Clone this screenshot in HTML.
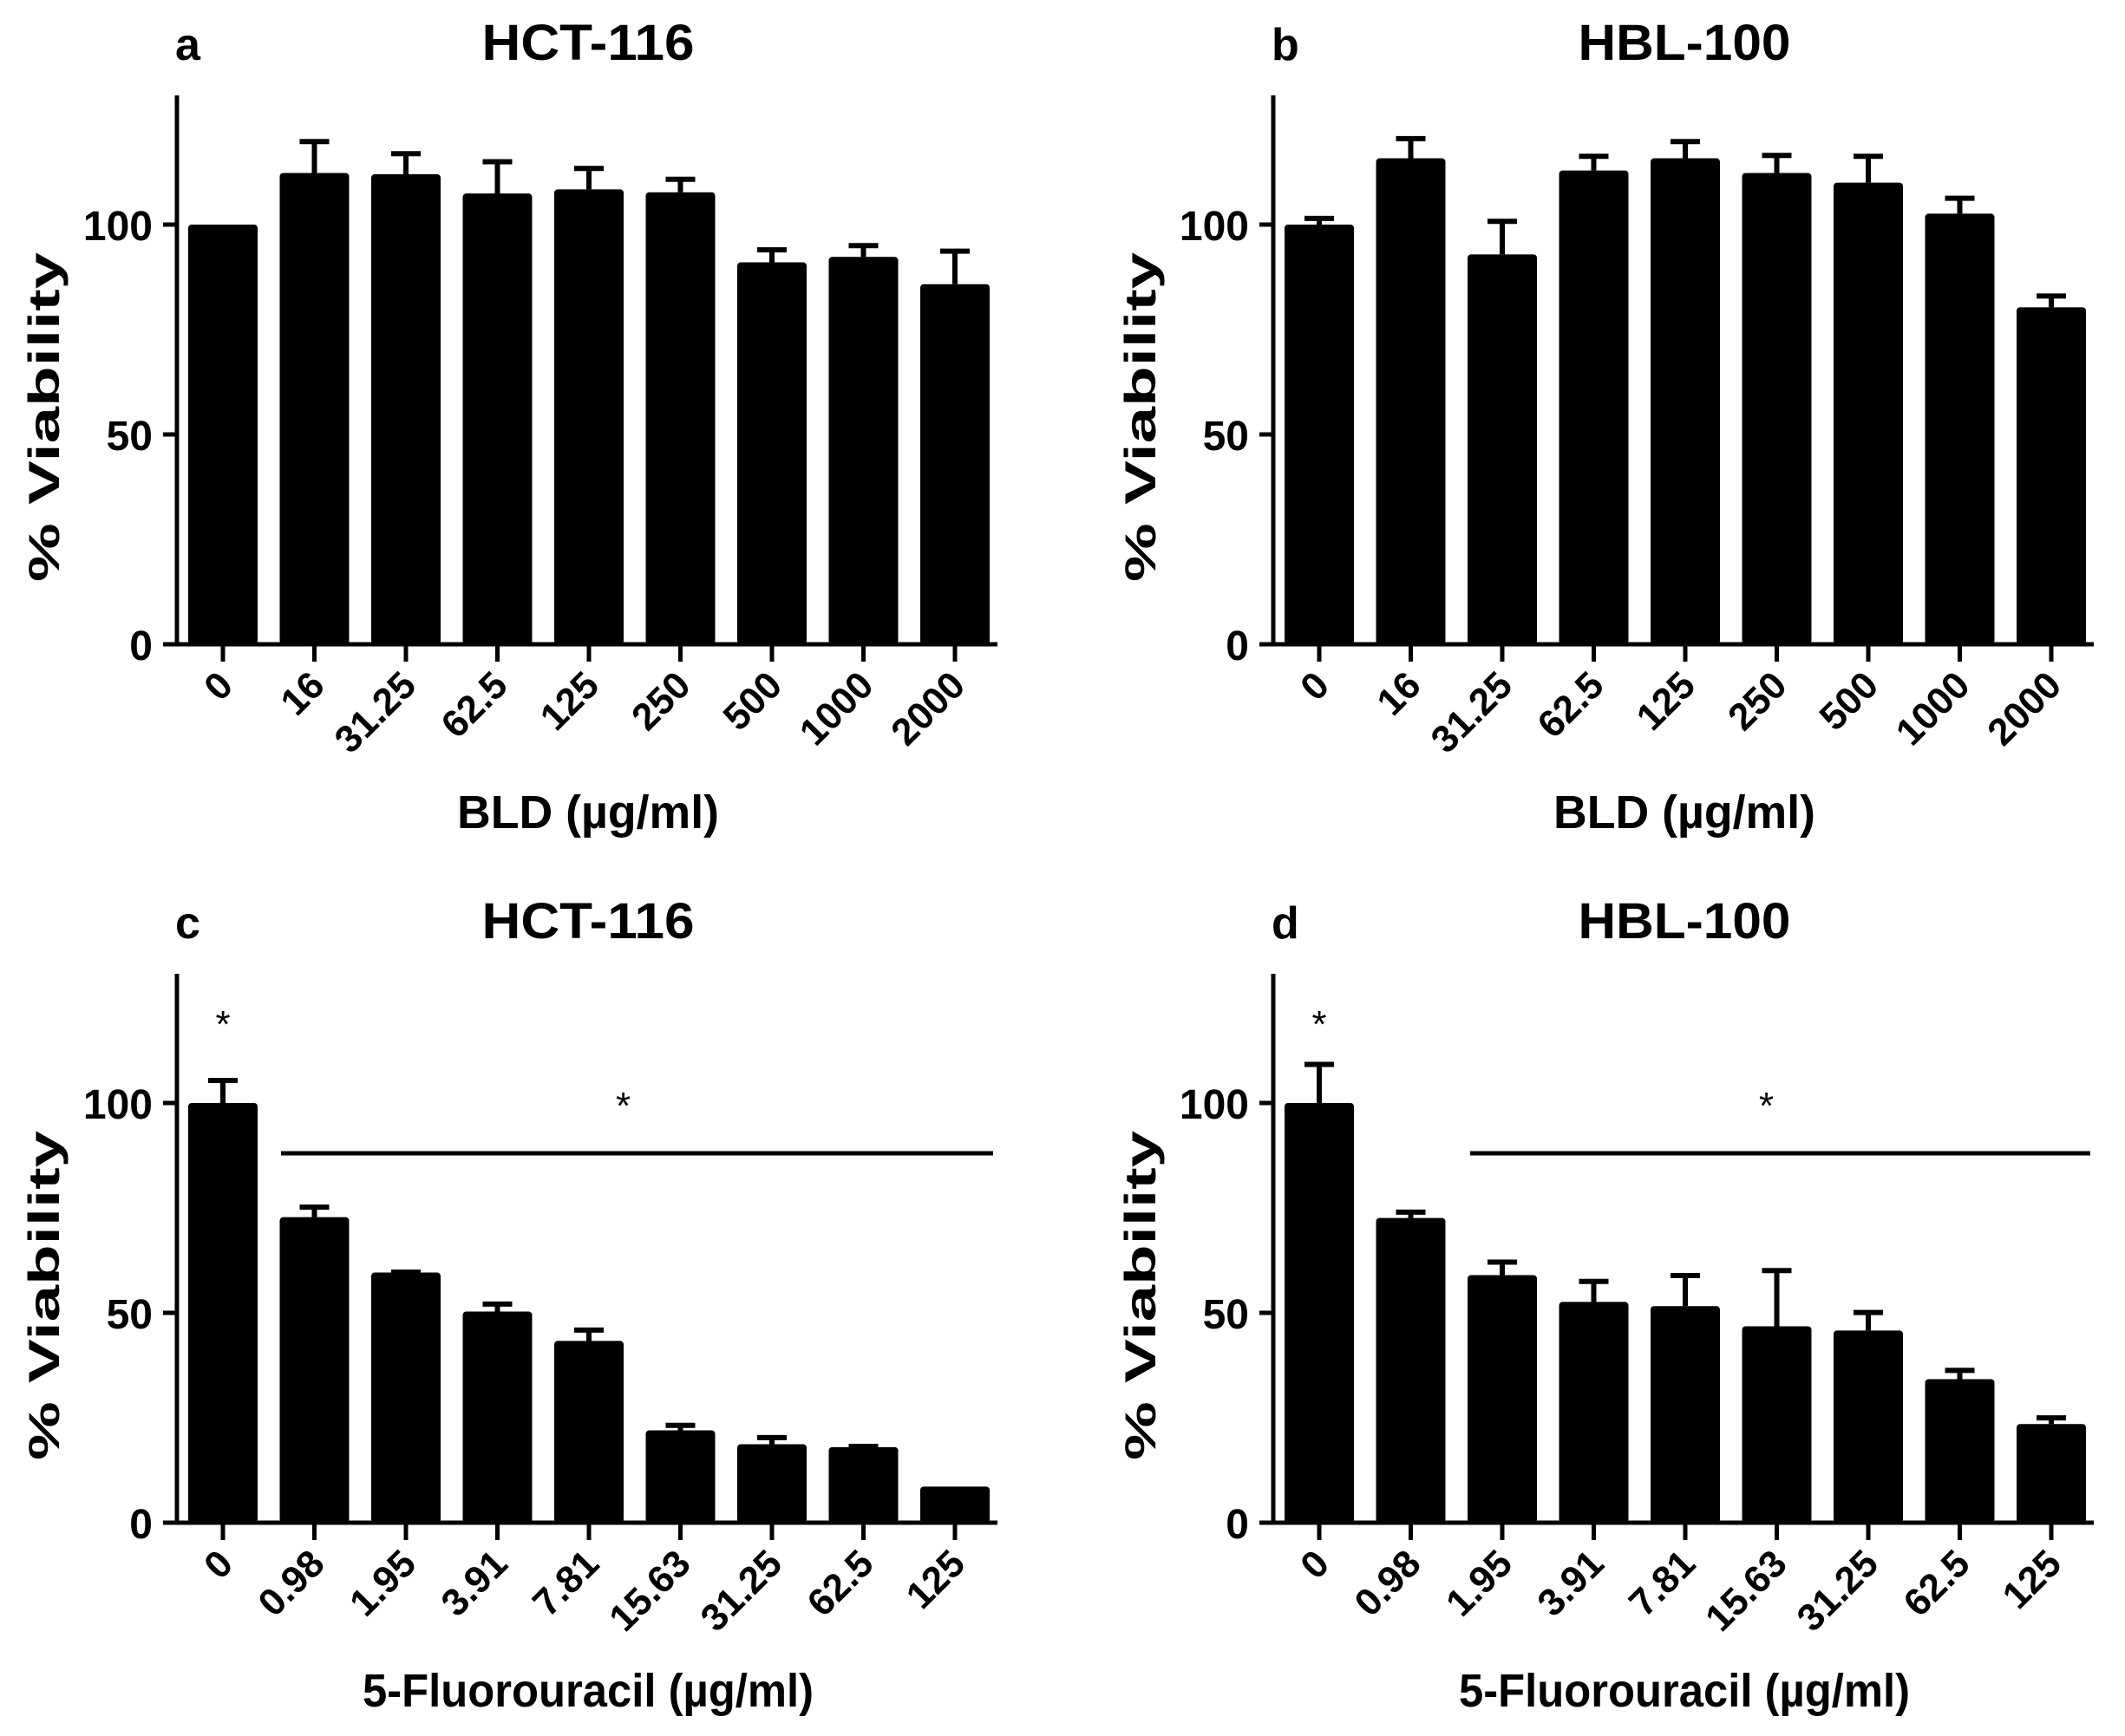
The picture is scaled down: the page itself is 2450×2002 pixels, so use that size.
<!DOCTYPE html>
<html><head><meta charset="utf-8"><style>
html,body{margin:0;padding:0;background:#fff;}
svg{display:block;}
text{font-family:"Liberation Sans",Arial,sans-serif;font-weight:bold;fill:#000;}
</style></head><body>
<svg id="fig" width="2450" height="2002" viewBox="0 0 2450 2002" xmlns="http://www.w3.org/2000/svg"></svg>
<script>
const catsBLD = ["0","16","31.25","62.5","125","250","500","1000","2000"];
const catsFU = ["0","0.98","1.95","3.91","7.81","15.63","31.25","62.5","125"];
const valsA = [100,112.3,112,107.4,108.4,107.7,91,92.3,85.8];
const errA = [null,120.3,117.4,115.5,113.9,111.3,94.5,95.5,94.2];
const valsB = [100,115.8,92.9,112.9,115.8,112.3,110,102.6,80.3];
const errB = [102,121,101.3,116.8,120.3,117,116.8,106.8,83.5];
const valsC = [100,72.8,59.6,50.3,43.3,22,18.7,18,8.6];
const errC = [105.9,75.7,60.2,52.6,46.4,23.7,20.8,18.7,null];
const valsD = [100,72.6,59,52.6,51.6,46.8,45.8,34.2,23.5];
const errD = [109.7,74.5,62.6,58,59.4,60.6,50.6,36.8,25.5];
const yTicks = [0,50,100];

const NS="http://www.w3.org/2000/svg";
const svg=document.getElementById('fig');
function mk(tag,attrs,parent){const e=document.createElementNS(NS,tag);for(const k in attrs)e.setAttribute(k,attrs[k]);(parent||svg).appendChild(e);return e;}

function panel(id,ax,y0,letter,title,xtitle,xtLen,cats,vals,errs,sig){
  const g=mk('g',{});
  
  
  const yS=v=>y0-v*4.84;
  const xS=i=>ax+53+i*105.5;
  const yTop=y0-633;
  const xEnd=ax+946;
  const l=mk('text',{x:ax-2,y:y0-674,'font-size':52},g);l.textContent=letter;
  
  
  const t=mk('text',{x:ax+474,y:y0-674,'font-size':58,'text-anchor':'middle',textLength:245,lengthAdjust:'spacingAndGlyphs'},g);t.textContent=title;
  
  
  vals.forEach((v,i)=>{
    const cx=xS(i);
    if(errs[i]!=null){
      const e=mk('line',{x1:cx,x2:cx,y1:yS(v),y2:yS(errs[i]),stroke:'#000','stroke-width':6},g);
      
      
      const c=mk('line',{x1:cx-17,x2:cx+17,y1:yS(errs[i])+2.5,y2:yS(errs[i])+2.5,stroke:'#000','stroke-width':6},g);
      
      
    }
    const b=mk('rect',{x:cx-40,y:yS(v),width:80,height:y0-yS(v),rx:4,fill:'#000'},g);
    
    
    const tk=mk('line',{x1:cx,x2:cx,y1:y0,y2:y0+20,stroke:'#000','stroke-width':5},g);
    
    
    const lx=cx+14,ly=y0+50;
    const tl=mk('text',{x:lx,y:ly,'font-size':44,'text-anchor':'end',transform:`rotate(-45 ${lx} ${ly})`},g);
    tl.textContent=cats[i];
    
    
  });
  const ya=mk('line',{x1:ax,x2:ax,y1:yTop,y2:y0+2.5,stroke:'#000','stroke-width':5},g);
  
  
  const xa=mk('line',{x1:ax-16,x2:xEnd,y1:y0,y2:y0,stroke:'#000','stroke-width':5},g);
  
  
  yTicks.forEach(v=>{
    const tk=mk('line',{x1:ax-16,x2:ax,y1:yS(v),y2:yS(v),stroke:'#000','stroke-width':5},g);
    
    
    const tl=mk('text',{x:ax-28,y:yS(v)+18,'font-size':48,'text-anchor':'end'},g);
    tl.textContent=v;
    
    
  });
  const yt=mk('text',{x:0,y:0,'font-size':50,'text-anchor':'middle',textLength:380,lengthAdjust:'spacingAndGlyphs',transform:`translate(${ax-136},${y0-262}) rotate(-90)`},g);
  yt.textContent='% Viability';
  
  
  const xt=mk('text',{x:ax+474,y:y0+212,'font-size':54,'text-anchor':'middle',textLength:xtLen,lengthAdjust:'spacingAndGlyphs'},g);
  xt.textContent=xtitle;
  
  
  if(sig){
    const s1=mk('text',{x:xS(0),y:y0-560,'font-size':44,'text-anchor':'middle',style:'font-weight:normal'},g);
    s1.textContent='*';
    
    
    const sl=mk('line',{x1:sig.x1,x2:sig.x2,y1:y0-426,y2:y0-426,stroke:'#000','stroke-width':5},g);
    
    
    const s2=mk('text',{x:(sig.x1+sig.x2)/2-16,y:y0-466,'font-size':44,'text-anchor':'middle',style:'font-weight:normal'},g);
    s2.textContent='*';
    
    
  }
}
panel('a',204,743,'a','HCT-116','BLD (\u00b5g/ml)',302,catsBLD,valsA,errA,null);
panel('b',1468,743,'b','HBL-100','BLD (\u00b5g/ml)',302,catsBLD,valsB,errB,null);
panel('c',204,1756,'c','HCT-116','5-Fluorouracil (\u00b5g/ml)',520,catsFU,valsC,errC,{x1:324,x2:1145});
panel('d',1468,1756,'d','HBL-100','5-Fluorouracil (\u00b5g/ml)',520,catsFU,valsD,errD,{x1:1695,x2:2410});
</script>
</body></html>
